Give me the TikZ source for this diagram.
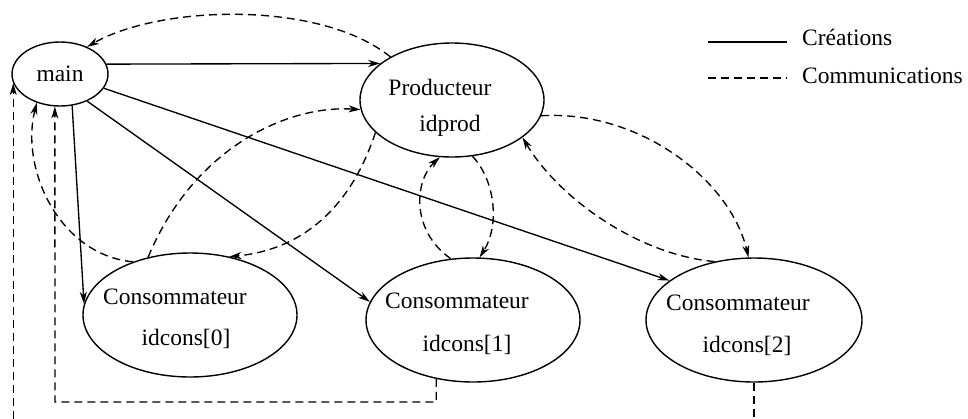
\documentclass[tikz,border=0pt]{standalone}
\usepackage{fontspec}
\setmainfont{Liberation Serif}
\usetikzlibrary{shapes.geometric,arrows.meta}
\begin{document}
\begin{tikzpicture}[x=1pt,y=-1pt,
  proc/.style={draw,ellipse,line width=1.4pt,inner sep=0pt},
  lbl/.style={font=\fontsize{23.5}{28}\selectfont,inner sep=0pt,anchor=base},
  tip/.style={-{Stealth[length=12pt,width=7pt,inset=3.5pt]}},
  creation/.style={tip,line width=1.35pt},
  comm/.style={tip,line width=1.35pt,dash pattern=on 8pt off 5pt}]
  \useasboundingbox (0,0) rectangle (968,418);
  \clip (0,0) rectangle (968,418);

  % processes
  \node[proc,minimum width=96pt,minimum height=64pt] (main) at (60,74)
    {\fontsize{23.5}{28}\selectfont main};
  \node[proc,minimum width=184pt,minimum height=114pt] (p) at (452,100) {};
  \node[proc,minimum width=214pt,minimum height=124pt] (c0) at (190,315) {};
  \node[proc,minimum width=214pt,minimum height=124pt] (c1) at (473,320) {};
  \node[proc,minimum width=216pt,minimum height=124pt] (c2) at (754,320) {};

  \node[lbl] (pt1) at (440,95) {Producteur};
  \node[lbl] (pt2) at (450,131) {idprod};
  \node[lbl] (c0t1) at (175,304) {Consommateur};
  \node[lbl] (c0t2) at (186,345) {idcons[0]};
  \node[lbl] (c1t1) at (457,308) {Consommateur};
  \node[lbl] (c1t2) at (467,351) {idcons[1]};
  \node[lbl] (c2t1) at (738,310) {Consommateur};
  \node[lbl] (c2t2) at (747,352) {idcons[2]};

  % creations
  \draw[creation] (main.12) -- (p.153);
  \draw[creation] (main.-69) -- (c0.174);
  \draw[creation] (main.-45) -- (c1.170);
  \draw[creation] (main.-18) -- (c2.155);

  % communications
  \draw[comm] (p.145) .. controls (320,0) and (160,5) .. (main.45);
  \draw[comm] (c0.126) .. controls (195,145) and (290,105) .. (p.186);
  \draw[comm] (p.203) .. controls (350,210) and (300,250) .. (c0.56);
  \draw[comm] (c0.137) .. controls (60,255) and (20,170) .. (main.231);
  \coordinate (b1) at (55,402);
  \draw[comm] (c1.238) |- (b1) -- (main.261);
  \coordinate (b2) at (754,440);
  \draw[comm] (c2.south) -- (b2) -| (main.191);
  \draw[comm] (c1.110) .. controls (410,230) and (415,180) .. (p.258);
  \draw[comm] (p.290) .. controls (495,180) and (500,225) .. (c1.84);
  \draw[comm] (c2.124) .. controls (640,255) and (560,200) .. (p.332);
  \draw[comm] (p.350) .. controls (640,110) and (730,180) .. (c2.95);

  % legend
  \coordinate (l1a) at (708,42);
  \coordinate (l1b) at (787,42);
  \coordinate (l2a) at (708,78);
  \coordinate (l2b) at (787,78);
  \draw[line width=1.35pt] (l1a) -- (l1b);
  \draw[line width=1.35pt,dash pattern=on 8pt off 5pt] (l2a) -- (l2b);
  \node[lbl,anchor=base west] (leg1) at (802,45) {Créations};
  \node[lbl,anchor=base west] (leg2) at (802,83) {Communications};
\end{tikzpicture}
\end{document}
